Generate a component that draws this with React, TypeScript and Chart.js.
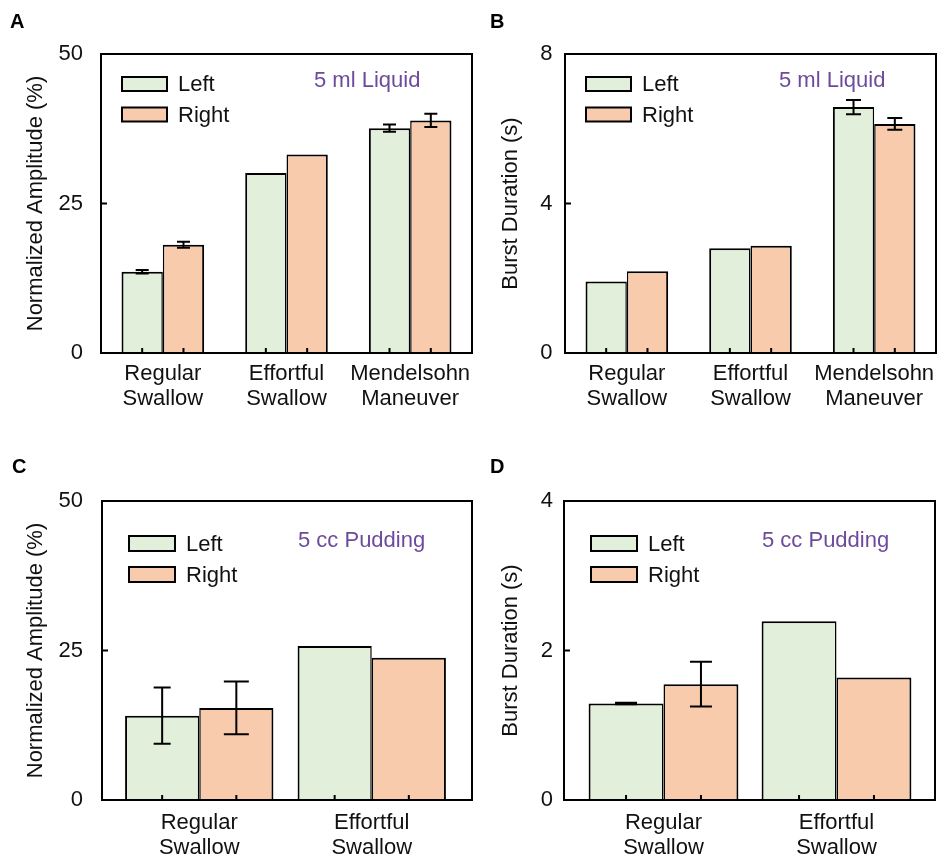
import React, { useEffect, useRef } from "react";
import { Chart, registerables } from "chart.js";

Chart.register(...registerables);

const FONT_FAMILY = "'Liberation Sans', Arial, Helvetica, sans-serif";
const TEXT_COLOR = "#111111";
const NOTE_COLOR = "#6d4a9c";

const SERIES = ["Left", "Right"];
const SERIES_FILLS = ["#e2efda", "#f8cbad"];

// categories
const LIQUID_CATEGORIES = ["Regular Swallow", "Effortful Swallow", "Mendelsohn Maneuver"];
const PUDDING_CATEGORIES = ["Regular Swallow", "Effortful Swallow"];

// Panel A: normalized amplitude, 5 ml liquid
const A_LEFT = [13.6, 30.1, 37.6];
const A_LEFT_ERR = [0.3, 0, 0.6];
const A_RIGHT = [18.1, 33.2, 38.9];
const A_RIGHT_ERR = [0.5, 0, 1.1];
const A_Y_TICKS = [0, 25, 50];

// Panel B: burst duration, 5 ml liquid
const B_LEFT = [1.91, 2.8, 6.58];
const B_LEFT_ERR = [0, 0, 0.19];
const B_RIGHT = [2.19, 2.87, 6.13];
const B_RIGHT_ERR = [0, 0, 0.16];
const B_Y_TICKS = [0, 4, 8];

// Panel C: normalized amplitude, 5 cc pudding
const C_LEFT = [14.1, 25.75];
const C_LEFT_ERR = [4.7, 0];
const C_RIGHT = [15.4, 23.8];
const C_RIGHT_ERR = [4.4, 0];
const C_Y_TICKS = [0, 25, 50];

// Panel D: burst duration, 5 cc pudding
const D_LEFT = [1.29, 2.39];
const D_LEFT_ERR = [0.01, 0];
const D_RIGHT = [1.55, 1.64];
const D_RIGHT_ERR = [0.3, 0];
const D_Y_TICKS = [0, 2, 4];

type Area = { left: number; top: number; right: number; bottom: number };
type PanelCfg = {
  letter: string;
  letterPos: [number, number];
  x: number;
  y: number;
  w: number;
  h: number;
  area: Area; // plot frame, canvas coordinates
  inset: [number, number]; // x-scale inset from frame (left, right)
  categories: string[];
  values: number[][];
  errors: number[][];
  yTicks: number[];
  yTitle: string;
  yTickPad: number;
  xTickPad: number;
  catPct: number;
  capWidths: number[];
  note: string;
  noteOff: [number, number];
  legend: { dx: number; dy: number; w: number; h: number; step: number; gap: number };
};

const PANELS: PanelCfg[] = [
  {
    letter: "A",
    letterPos: [10, 28],
    x: 0,
    y: 0,
    w: 475,
    h: 430,
    area: { left: 101, top: 54, right: 472, bottom: 353 },
    inset: [0, 0],
    categories: LIQUID_CATEGORIES,
    values: [A_LEFT, A_RIGHT],
    errors: [A_LEFT_ERR, A_RIGHT_ERR],
    yTicks: A_Y_TICKS,
    yTitle: "Normalized Amplitude (%)",
    yTickPad: 18,
    xTickPad: 8,
    catPct: 0.668,
    capWidths: [13, 13],
    note: "5 ml Liquid",
    noteOff: [213, 27],
    legend: { dx: 21, dy: 23, w: 45, h: 14, step: 30.5, gap: 11 },
  },
  {
    letter: "B",
    letterPos: [15, 28],
    x: 475,
    y: 0,
    w: 476,
    h: 430,
    area: { left: 90, top: 54, right: 461, bottom: 353 },
    inset: [0, 0],
    categories: LIQUID_CATEGORIES,
    values: [B_LEFT, B_RIGHT],
    errors: [B_LEFT_ERR, B_RIGHT_ERR],
    yTicks: B_Y_TICKS,
    yTitle: "Burst Duration (s)",
    yTickPad: 12.5,
    xTickPad: 8,
    catPct: 0.668,
    capWidths: [15, 15],
    note: "5 ml Liquid",
    noteOff: [214, 27],
    legend: { dx: 21, dy: 23, w: 45, h: 14, step: 30.5, gap: 11 },
  },
  {
    letter: "C",
    letterPos: [12, 43],
    x: 0,
    y: 430,
    w: 475,
    h: 431,
    area: { left: 102, top: 71, right: 472, bottom: 370 },
    inset: [11, 14],
    categories: PUDDING_CATEGORIES,
    values: [C_LEFT, C_RIGHT],
    errors: [C_LEFT_ERR, C_RIGHT_ERR],
    yTicks: C_Y_TICKS,
    yTitle: "Normalized Amplitude (%)",
    yTickPad: 19,
    xTickPad: 10,
    catPct: 0.86,
    capWidths: [17, 25],
    note: "5 cc Pudding",
    noteOff: [196, 40],
    legend: { dx: 27, dy: 35, w: 46, h: 15, step: 31, gap: 11 },
  },
  {
    letter: "D",
    letterPos: [15, 43],
    x: 475,
    y: 430,
    w: 476,
    h: 431,
    area: { left: 89, top: 71, right: 460, bottom: 370 },
    inset: [13, 12],
    categories: PUDDING_CATEGORIES,
    values: [D_LEFT, D_RIGHT],
    errors: [D_LEFT_ERR, D_RIGHT_ERR],
    yTicks: D_Y_TICKS,
    yTitle: "Burst Duration (s)",
    yTickPad: 11,
    xTickPad: 10,
    catPct: 0.866,
    capWidths: [22, 22],
    note: "5 cc Pudding",
    noteOff: [198, 40],
    legend: { dx: 27, dy: 35, w: 46, h: 15, step: 31, gap: 11 },
  },
];

function buildConfig(p: PanelCfg): any {
  const labels = p.categories.map((c) => c.split(" "));
  const area = p.area;
  const plotLeft = area.left + p.inset[0];
  const plotRight = area.right - p.inset[1];
  const tickFont = { family: FONT_FAMILY, size: 22, lineHeight: 1.15 };

  const datasets = p.values.map((vals, di) => ({
    label: SERIES[di],
    data: vals,
    backgroundColor: SERIES_FILLS[di],
    borderColor: "#000000",
    borderWidth:
      di === 0
        ? { top: 2, left: 2, right: 1.5, bottom: 0 }
        : { top: 2, left: 1.5, right: 2, bottom: 0 },
    borderSkipped: "bottom",
    barPercentage: 1,
    categoryPercentage: p.catPct,
  }));

  const xScale: any = {
    type: "category",
    offset: true,
    grid: { display: false, drawTicks: false },
    border: { display: false },
    ticks: {
      font: tickFont,
      color: TEXT_COLOR,
      padding: p.xTickPad,
      maxRotation: 0,
      minRotation: 0,
      autoSkip: false,
    },
    afterFit: (s: any) => {
      s.height = p.h - area.bottom;
      s.paddingLeft = 0;
      s.paddingRight = 0;
    },
  };

  const yScale: any = {
    type: "linear",
    min: p.yTicks[0],
    max: p.yTicks[p.yTicks.length - 1],
    afterBuildTicks: (s: any) => {
      s.ticks = p.yTicks.map((v) => ({ value: v }));
    },
    grid: { display: false, drawTicks: false },
    border: { display: false },
    ticks: {
      font: { family: FONT_FAMILY, size: 22 },
      color: TEXT_COLOR,
      padding: p.yTickPad + p.inset[0],
      callback: (v: any) => String(v),
    },
    title: {
      display: true,
      text: p.yTitle,
      color: TEXT_COLOR,
      font: { family: FONT_FAMILY, size: 22, lineHeight: 1.2 },
      padding: { top: 23, bottom: 0 },
    },
    afterFit: (s: any) => {
      s.width = plotLeft;
      s.paddingTop = 0;
      s.paddingBottom = 0;
    },
  };

  const decor = {
    id: "decor" + p.letter,
    afterDatasetsDraw(chart: any) {
      const ctx = chart.ctx as CanvasRenderingContext2D;
      const { top, bottom } = chart.chartArea;
      const left = area.left;
      const right = area.right;
      const y = chart.scales.y;
      ctx.save();
      ctx.strokeStyle = "#000000";
      ctx.lineWidth = 2;
      ctx.lineCap = "butt";
      // error bars
      p.errors.forEach((errs, di) => {
        const meta = chart.getDatasetMeta(di);
        meta.data.forEach((bar: any, j: number) => {
          const e = errs[j];
          if (!e) return;
          const v = p.values[di][j];
          const yHi = y.getPixelForValue(v + e);
          const yLo = y.getPixelForValue(v - e);
          const hw = p.capWidths[di] / 2;
          ctx.beginPath();
          ctx.moveTo(bar.x, yHi);
          ctx.lineTo(bar.x, yLo);
          ctx.moveTo(bar.x - hw, yHi);
          ctx.lineTo(bar.x + hw, yHi);
          ctx.moveTo(bar.x - hw, yLo);
          ctx.lineTo(bar.x + hw, yLo);
          ctx.stroke();
        });
      });
      // x ticks at bar centres (inward)
      ctx.beginPath();
      p.values.forEach((_, di) => {
        const meta = chart.getDatasetMeta(di);
        meta.data.forEach((bar: any) => {
          ctx.moveTo(bar.x, bottom);
          ctx.lineTo(bar.x, bottom - 5);
        });
      });
      // y ticks (inward)
      y.ticks.forEach((t: any) => {
        const py = y.getPixelForValue(t.value);
        if (Math.abs(py - top) < 1 || Math.abs(py - bottom) < 1) return;
        ctx.moveTo(left, py);
        ctx.lineTo(left + 6, py);
      });
      ctx.stroke();
      // frame
      ctx.strokeRect(left, top, right - left, bottom - top);
      ctx.restore();
    },
    afterDraw(chart: any) {
      const ctx = chart.ctx as CanvasRenderingContext2D;
      const { top } = chart.chartArea;
      const left = area.left;
      ctx.save();
      // legend
      const L = p.legend;
      ctx.font = `22px ${FONT_FAMILY}`;
      ctx.textBaseline = "middle";
      ctx.textAlign = "left";
      SERIES.forEach((name, i) => {
        const bx = left + L.dx;
        const by = top + L.dy + i * L.step;
        ctx.fillStyle = SERIES_FILLS[i];
        ctx.fillRect(bx, by, L.w, L.h);
        ctx.strokeStyle = "#000000";
        ctx.lineWidth = 2;
        ctx.strokeRect(bx, by, L.w, L.h);
        ctx.fillStyle = TEXT_COLOR;
        ctx.fillText(name, bx + L.w + L.gap, by + L.h / 2 + 1);
      });
      // note
      ctx.fillStyle = NOTE_COLOR;
      ctx.fillText(p.note, left + p.noteOff[0], top + p.noteOff[1]);
      // panel letter
      ctx.fillStyle = "#000000";
      ctx.font = `bold 20px ${FONT_FAMILY}`;
      ctx.textBaseline = "alphabetic";
      ctx.fillText(p.letter, p.letterPos[0], p.letterPos[1]);
      ctx.restore();
    },
  };

  return {
    type: "bar",
    data: { labels, datasets },
    options: {
      responsive: false,
      maintainAspectRatio: false,
      animation: false,
      devicePixelRatio: 1,
      layout: {
        padding: { left: 0, top: area.top, right: p.w - plotRight, bottom: 0 },
      },
      plugins: {
        legend: { display: false },
        tooltip: { enabled: false },
        title: { display: false },
      },
      scales: { x: xScale, y: yScale },
    },
    plugins: [decor],
  };
}

function Panel({ cfg }: { cfg: PanelCfg }) {
  const ref = useRef<HTMLCanvasElement | null>(null);
  useEffect(() => {
    const canvas = ref.current;
    if (!canvas) return;
    const chart = new Chart(canvas, buildConfig(cfg));
    return () => chart.destroy();
  }, [cfg]);
  return (
    <canvas
      ref={ref}
      width={cfg.w}
      height={cfg.h}
      style={{ position: "absolute", left: cfg.x, top: cfg.y, width: cfg.w, height: cfg.h }}
    />
  );
}

export default function App() {
  return (
    <div
      style={{
        position: "absolute",
        left: 0,
        top: 0,
        width: 951,
        height: 861,
        background: "#ffffff",
        overflow: "hidden",
      }}
    >
      {PANELS.map((p) => (
        <Panel key={p.letter} cfg={p} />
      ))}
    </div>
  );
}
